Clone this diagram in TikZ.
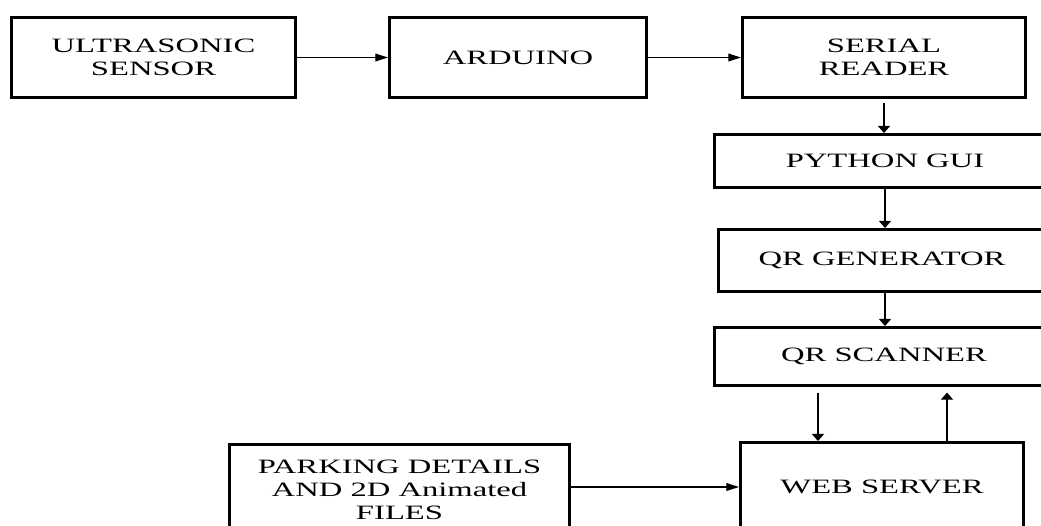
\documentclass[tikz,border=0pt]{standalone}
\usepackage{fontspec}
\setmainfont[FakeStretch=1.6]{Liberation Serif}
\usetikzlibrary{arrows.meta,positioning}

\begin{document}
\begin{tikzpicture}[x=0.025cm, y=-0.025cm,
  blockbox/.style={draw, line width=2.1pt, align=center, inner sep=0pt,
    font=\fontsize{14.5}{16.2}\selectfont},
  harrow/.style={-{Triangle[length=9pt,width=5.5pt]}, line width=0.9pt},
  varrow/.style={-{Triangle[length=5pt,width=8.5pt]}, line width=0.9pt}]
  \useasboundingbox (0,0) rectangle (1041,526);
  \clip (0,0) rectangle (1041,526);
  \node[blockbox, minimum width=7.1cm, minimum height=2cm] (us) at (153.5,57.5) {ULTRASONIC\\SENSOR};
  \node[blockbox, minimum width=6.425cm, minimum height=2cm] (ard) at (518,57.5) {ARDUINO};
  \node[blockbox, minimum width=7.075cm, minimum height=2cm] (ser) at (884,57.5) {SERIAL\\READER};
  \node[blockbox, minimum width=8.525cm, minimum height=1.325cm] (gui) at (885,161) {PYTHON GUI};
  \node[blockbox, minimum width=8.175cm, minimum height=1.55cm] (gen) at (882,260.5) {QR GENERATOR};
  \node[blockbox, minimum width=8.475cm, minimum height=1.45cm] (scan) at (884,356.5) {QR SCANNER};
  \node[blockbox, minimum width=7.075cm, minimum height=2.225cm] (web) at (882,487) {WEB SERVER};
  \node[blockbox, minimum width=8.5cm, minimum height=2.275cm] (park) at (399.5,490) {PARKING DETAILS\\AND 2D Animated\\FILES};
  \draw[harrow] (us) -- (ard);
  \draw[harrow] (ard) -- (ser);
  \draw[varrow, shorten <=3pt] (ser.south) -- (ser.south |- gui.north);
  \draw[varrow] (gui.south) -- (gui.south |- gen.north);
  \draw[varrow] (gui.south |- gen.south) -- (gui.south |- scan.north);
  \draw[varrow, shorten <=4pt] ([xshift=-1.6cm]web.north |- scan.south) -- ([xshift=-1.6cm]web.north);
  \draw[varrow, shorten >=4pt] ([xshift=1.625cm]web.north) -- ([xshift=1.625cm]web.north |- scan.south);
  \draw[harrow] (park.east |- web.west) -- (web.west);
\end{tikzpicture}
\end{document}
